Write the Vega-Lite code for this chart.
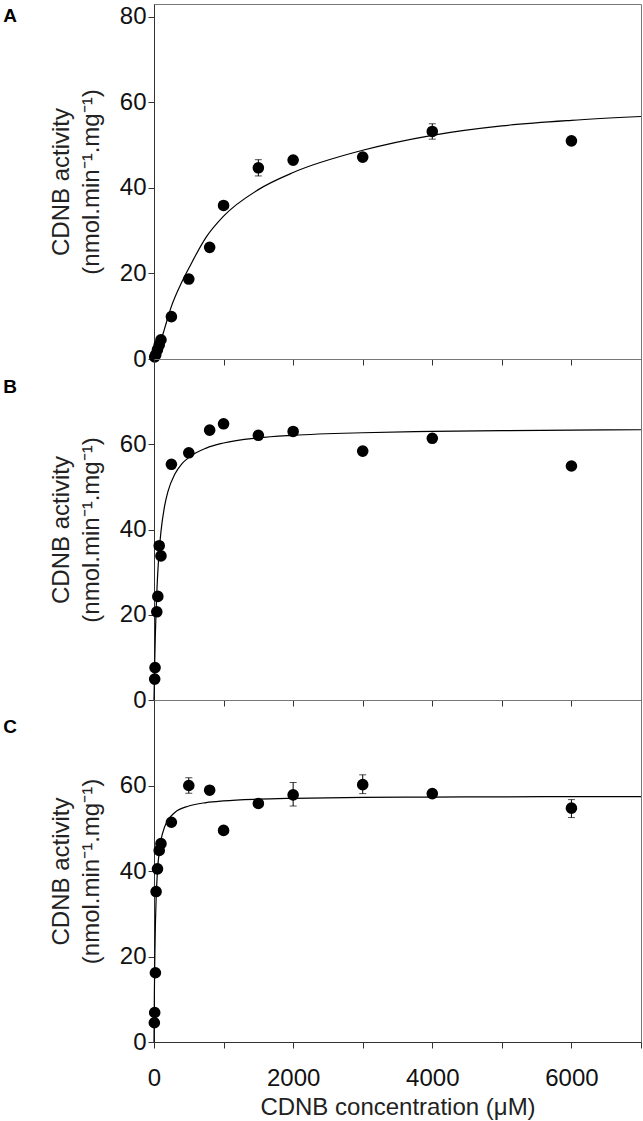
{
  "$schema": "https://vega.github.io/schema/vega-lite/v6.json",
  "background": "white",
  "padding": {"left": 2, "top": 3, "right": 0, "bottom": 0},
  "spacing": 0,
  "bounds": "flush",
  "config": {
    "view": {"stroke": "#777", "strokeWidth": 1},
    "axis": {
      "grid": false,
      "domainColor": "#333",
      "tickColor": "#333",
      "labelColor": "#111",
      "titleColor": "#222",
      "labelFont": "Liberation Sans",
      "titleFont": "Liberation Sans",
      "labelFontSize": 24,
      "titleFontSize": 24,
      "titleFontWeight": "normal",
      "tickSize": 6,
      "labelFlush": false
    },
    "title": {
      "font": "Liberation Sans",
      "fontSize": 19,
      "fontWeight": "bold",
      "color": "#000",
      "anchor": "start",
      "frame": "group",
      "offset": 0,
      "baseline": "alphabetic",
      "dx": -150.7
    }
  },
  "datasets": {
    "A_pts": [
      {"conc": 10, "act": 0.5}, {"conc": 25, "act": 1.0}, {"conc": 50, "act": 2.2}, {"conc": 75, "act": 3.3}, {"conc": 100, "act": 4.5},
      {"conc": 250, "act": 9.9}, {"conc": 500, "act": 18.7}, {"conc": 800, "act": 26.1}, {"conc": 1000, "act": 35.9},
      {"conc": 1500, "act": 44.7}, {"conc": 2000, "act": 46.5}, {"conc": 3000, "act": 47.2}, {"conc": 4000, "act": 53.2}, {"conc": 6000, "act": 51.0}
    ],
    "A_err": [
      {"conc": 1500, "lo": 42.8, "hi": 46.6}, {"conc": 4000, "lo": 51.4, "hi": 55.0}
    ],
    "A_fit": [
      {"conc": 0, "act": 0}, {"conc": 50, "act": 2.0}, {"conc": 100, "act": 4.3}, {"conc": 150, "act": 7.0}, {"conc": 250, "act": 12.3},
      {"conc": 400, "act": 18.0}, {"conc": 500, "act": 21.2}, {"conc": 750, "act": 28.5}, {"conc": 1000, "act": 33.4}, {"conc": 1500, "act": 39.6},
      {"conc": 2000, "act": 43.6}, {"conc": 3000, "act": 48.8}, {"conc": 4000, "act": 52.3}, {"conc": 5000, "act": 54.5}, {"conc": 6000, "act": 55.8}, {"conc": 7000, "act": 56.7}
    ],
    "B_pts": [
      {"conc": 10, "act": 4.9}, {"conc": 15, "act": 7.6}, {"conc": 40, "act": 20.7}, {"conc": 55, "act": 24.3}, {"conc": 75, "act": 36.2}, {"conc": 100, "act": 33.8},
      {"conc": 250, "act": 55.3}, {"conc": 500, "act": 58.0}, {"conc": 800, "act": 63.3}, {"conc": 1000, "act": 64.8}, {"conc": 1500, "act": 62.1},
      {"conc": 2000, "act": 63.0}, {"conc": 3000, "act": 58.4}, {"conc": 4000, "act": 61.4}, {"conc": 6000, "act": 54.9}
    ],
    "B_fit": [
      {"conc": 0, "act": 0}, {"conc": 10, "act": 8.9}, {"conc": 20, "act": 15.6}, {"conc": 30, "act": 20.9}, {"conc": 50, "act": 28.6}, {"conc": 75, "act": 35.0},
      {"conc": 100, "act": 39.5}, {"conc": 150, "act": 45.3}, {"conc": 200, "act": 48.9}, {"conc": 300, "act": 53.0}, {"conc": 400, "act": 55.4}, {"conc": 500, "act": 56.9},
      {"conc": 750, "act": 59.1}, {"conc": 1000, "act": 60.3}, {"conc": 1500, "act": 61.5}, {"conc": 2000, "act": 62.1}, {"conc": 3000, "act": 62.7},
      {"conc": 4000, "act": 63.0}, {"conc": 5000, "act": 63.2}, {"conc": 6000, "act": 63.3}, {"conc": 7000, "act": 63.4}
    ],
    "C_pts": [
      {"conc": 5, "act": 4.5}, {"conc": 10, "act": 6.9}, {"conc": 20, "act": 16.2}, {"conc": 30, "act": 35.2}, {"conc": 50, "act": 40.5}, {"conc": 75, "act": 44.8},
      {"conc": 100, "act": 46.4}, {"conc": 250, "act": 51.4}, {"conc": 500, "act": 60.0}, {"conc": 800, "act": 58.9}, {"conc": 1000, "act": 49.5},
      {"conc": 1500, "act": 55.8}, {"conc": 2000, "act": 57.8}, {"conc": 3000, "act": 60.2}, {"conc": 4000, "act": 58.1}, {"conc": 6000, "act": 54.7}
    ],
    "C_err": [
      {"conc": 500, "lo": 58.2, "hi": 61.8}, {"conc": 2000, "lo": 55.2, "hi": 60.7}, {"conc": 3000, "lo": 58.1, "hi": 62.5}, {"conc": 6000, "lo": 52.5, "hi": 56.7}
    ],
    "C_fit": [
      {"conc": 0, "act": 0}, {"conc": 5, "act": 10.7}, {"conc": 10, "act": 18.0}, {"conc": 20, "act": 27.4}, {"conc": 30, "act": 33.2}, {"conc": 50, "act": 40.0},
      {"conc": 75, "act": 44.5}, {"conc": 100, "act": 47.2}, {"conc": 150, "act": 50.2}, {"conc": 200, "act": 51.9}, {"conc": 300, "act": 53.7}, {"conc": 500, "act": 55.2},
      {"conc": 750, "act": 56.0}, {"conc": 1000, "act": 56.4}, {"conc": 1500, "act": 56.8}, {"conc": 2000, "act": 57.0}, {"conc": 3000, "act": 57.2},
      {"conc": 4000, "act": 57.3}, {"conc": 5000, "act": 57.35}, {"conc": 6000, "act": 57.4}, {"conc": 7000, "act": 57.4}
    ]
  },
  "vconcat": [
    {
      "width": 487,
      "height": 355,
      "title": {"text": "A", "dy": 26.2},
      "resolve": {"axis": {"x": "independent", "y": "independent"}},
      "layer": [
        {
          "data": {"name": "A_fit"},
          "mark": {"type": "line", "color": "black", "strokeWidth": 1.2, "interpolate": "monotone"},
          "encoding": {
            "x": {"field": "conc", "type": "quantitative", "scale": {"domain": [0, 7000], "nice": false},
                  "axis": {"values": [0, 1000, 2000, 3000, 4000, 5000, 6000, 7000], "labels": false, "title": null}},
            "y": {"field": "act", "type": "quantitative", "scale": {"domain": [0, 83], "nice": false},
                  "axis": {"values": [0, 20, 40, 60, 80], "title": ["CDNB activity", "(nmol.min⁻¹.mg⁻¹)"], "titlePadding": 16, "titleLineHeight": 30, "labelPadding": 2}}
          }
        },
        {
          "data": {"name": "A_err"},
          "mark": {"type": "errorbar", "color": "black", "thickness": 1, "ticks": {"size": 7, "thickness": 1}},
          "encoding": {
            "x": {"field": "conc", "type": "quantitative", "axis": null},
            "y": {"field": "lo", "type": "quantitative", "axis": null},
            "y2": {"field": "hi"}
          }
        },
        {
          "data": {"name": "A_pts"},
          "mark": {"type": "circle", "size": 135, "color": "black", "opacity": 1},
          "encoding": {
            "x": {"field": "conc", "type": "quantitative", "axis": null},
            "y": {"field": "act", "type": "quantitative", "axis": null}
          }
        }
      ]
    },
    {
      "width": 487,
      "height": 341,
      "title": {"text": "B", "dy": 41.9},
      "resolve": {"axis": {"x": "independent", "y": "independent"}},
      "layer": [
        {
          "data": {"name": "B_fit"},
          "mark": {"type": "line", "color": "black", "strokeWidth": 1.2, "interpolate": "monotone"},
          "encoding": {
            "x": {"field": "conc", "type": "quantitative", "scale": {"domain": [0, 7000], "nice": false},
                  "axis": {"values": [0, 1000, 2000, 3000, 4000, 5000, 6000, 7000], "labels": false, "title": null}},
            "y": {"field": "act", "type": "quantitative", "scale": {"domain": [0, 80], "nice": false},
                  "axis": {"values": [0, 20, 40, 60], "title": ["CDNB activity", "(nmol.min⁻¹.mg⁻¹)"], "titlePadding": 16, "titleLineHeight": 30, "labelPadding": 2}}
          }
        },
        {
          "data": {"name": "B_pts"},
          "mark": {"type": "circle", "size": 135, "color": "black", "opacity": 1},
          "encoding": {
            "x": {"field": "conc", "type": "quantitative", "axis": null},
            "y": {"field": "act", "type": "quantitative", "axis": null}
          }
        }
      ]
    },
    {
      "width": 487,
      "height": 342,
      "title": {"text": "C", "dy": 41.2},
      "resolve": {"axis": {"x": "independent", "y": "independent"}},
      "layer": [
        {
          "data": {"name": "C_fit"},
          "mark": {"type": "line", "color": "black", "strokeWidth": 1.2, "interpolate": "monotone"},
          "encoding": {
            "x": {"field": "conc", "type": "quantitative", "scale": {"domain": [0, 7000], "nice": false},
                  "axis": {"values": [0, 1000, 2000, 3000, 4000, 5000, 6000, 7000], "format": "d",
                           "labelExpr": "datum.value % 2000 === 0 ? datum.label : ''",
                           "title": "CDNB concentration (μM)", "labelPadding": 18, "titlePadding": 5}},
            "y": {"field": "act", "type": "quantitative", "scale": {"domain": [0, 80], "nice": false},
                  "axis": {"values": [0, 20, 40, 60], "title": ["CDNB activity", "(nmol.min⁻¹.mg⁻¹)"], "titlePadding": 16, "titleLineHeight": 30, "labelPadding": 2}}
          }
        },
        {
          "data": {"name": "C_err"},
          "mark": {"type": "errorbar", "color": "black", "thickness": 1, "ticks": {"size": 7, "thickness": 1}},
          "encoding": {
            "x": {"field": "conc", "type": "quantitative", "axis": null},
            "y": {"field": "lo", "type": "quantitative", "axis": null},
            "y2": {"field": "hi"}
          }
        },
        {
          "data": {"name": "C_pts"},
          "mark": {"type": "circle", "size": 135, "color": "black", "opacity": 1},
          "encoding": {
            "x": {"field": "conc", "type": "quantitative", "axis": null},
            "y": {"field": "act", "type": "quantitative", "axis": null}
          }
        }
      ]
    }
  ]
}
